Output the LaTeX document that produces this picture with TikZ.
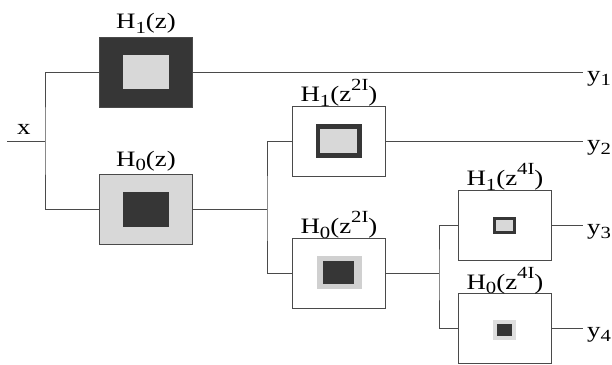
\documentclass[tikz,border=0pt]{standalone}
\usepackage{fontspec}
\setmainfont{Liberation Serif}[FakeStretch=1.22]
\definecolor{darkf}{HTML}{363636}
\definecolor{lightf}{HTML}{D8D8D8}
\definecolor{halo}{HTML}{D0D0D0}
\definecolor{linec}{HTML}{4A4A4A}
\newcommand\mysub[1]{\raisebox{-0.22em}{\fontsize{17}{17}\selectfont #1}}
\newcommand\mysup[1]{\raisebox{0.48em}{\fontsize{17}{17}\selectfont #1}}
\begin{document}
\begin{tikzpicture}[x=1pt,y=-1pt,
  conn/.style={draw=linec, line width=0.9pt},
  blk/.style={draw=linec, line width=0.9pt, minimum width=93pt, minimum height=70pt, inner sep=0pt},
  lbl/.style={font=\fontsize{22}{24}\selectfont, anchor=base, inner sep=0pt},
  outl/.style={font=\fontsize{22}{24}\selectfont, anchor=base west, inner sep=0pt}]
\useasboundingbox (0,0) rectangle (612,364);
% blocks
\node[blk, fill=darkf] (h1) at (146,72) {};
\node[blk, fill=lightf] (h0) at (146,209.5) {};
\node[blk, fill=white] (h12) at (339,141) {};
\node[blk, fill=white] (h02) at (339,273) {};
\node[blk, fill=white] (h14) at (505,225) {};
\node[blk, fill=white] (h04) at (505,328.5) {};
% inner squares
\fill[lightf] (123,55) rectangle (169,89);
\fill[darkf] (123,192) rectangle (169,227);
\fill[darkf] (316,124) rectangle (362,158);
\fill[lightf] (320,129) rectangle (357,153);
\fill[halo] (317,256) rectangle (362,289);
\fill[darkf] (323,261) rectangle (354,284);
\fill[darkf] (493,217) rectangle (516,234);
\fill[lightf] (496,220) rectangle (513,231);
\fill[halo!70] (493,320) rectangle (516,340);
\fill[darkf] (497,324) rectangle (512,336);
% labels
\node[lbl] (l1) at ([yshift=8pt]h1.north) {H\mysub{1}(z)};
\node[lbl] (l0) at ([yshift=8pt]h0.north) {H\mysub{0}(z)};
\node[lbl] (l12) at ([yshift=4pt]h12.north) {H\mysub{1}(z\mysup{2I})};
\node[lbl] (l02) at ([yshift=4pt]h02.north) {H\mysub{0}(z\mysup{2I})};
\node[lbl] (l14) at ([yshift=4pt]h14.north) {H\mysub{1}(z\mysup{4I})};
\node[lbl] (l04) at ([yshift=4pt]h04.north) {H\mysub{0}(z\mysup{4I})};
% coordinates
\coordinate (in) at (7,141);
\coordinate (j0) at (45,141);
\coordinate (j1) at (267,209.5);
\coordinate (j2) at (439,273);
\coordinate (o1) at (583,72);
\coordinate (o2) at (583,141);
\coordinate (o3) at (583,225);
\coordinate (o4) at (583,328.5);
% connectors
\draw[conn] (in) -- (j0);
\draw[conn] (h1.west) -| (j0) |- (h0.west);
\draw[conn] (h1.east) -- (o1);
\draw[conn] (h0.east) -- (j1);
\draw[conn] (h12.west) -| (j1) |- (h02.west);
\draw[conn] (h12.east) -- (o2);
\draw[conn] (h02.east) -- (j2);
\draw[conn] (h14.west) -| (j2) |- (h04.west);
\draw[conn] (h14.east) -- (o3);
\draw[conn] (h04.east) -- (o4);
% signal labels
\node[outl] (x) at (17,134) {x};
\node[outl] (y1) at (587,81) {y\mysub{1}};
\node[outl] (y2) at (587,150) {y\mysub{2}};
\node[outl] (y3) at (587,234) {y\mysub{3}};
\node[outl] (y4) at (587,337) {y\mysub{4}};
\end{tikzpicture}
\end{document}
